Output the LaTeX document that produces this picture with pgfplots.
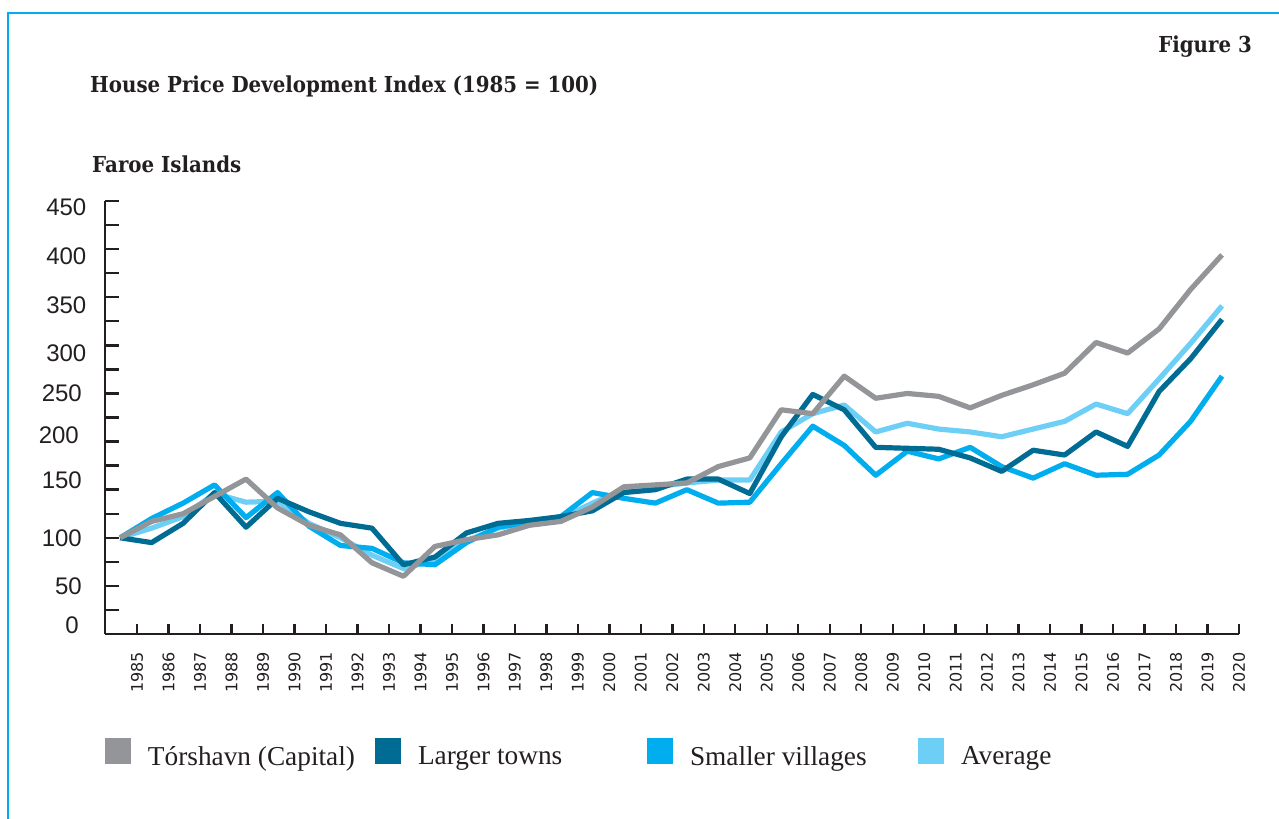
\documentclass[border=0pt]{standalone}
\usepackage{pgfplots}
\pgfplotsset{compat=1.18}
\usepackage{pgfplotstable}
\usepackage{fontspec}
\setmainfont{Liberation Serif}
\newfontfamily\titlefont{DejaVu Serif}[FakeStretch=0.9]
\newfontfamily\sansA{Liberation Sans}
\newfontfamily\sansB{DejaVu Sans}

\definecolor{framecol}{HTML}{00AEEF}
\definecolor{textcol}{HTML}{231F20}
\definecolor{torcol}{HTML}{939598}
\definecolor{largecol}{HTML}{006C94}
\definecolor{smallcol}{HTML}{00AEEF}
\definecolor{avgcol}{HTML}{6DCFF6}

\pgfplotstableread{
year T L S A
1985 100 100 100 100
1986 117 95 120 110
1987 125 115 136 122
1988 143 147 155 146
1989 161 111 121 137
1990 131 141 147 138
1991 113 127 112 115
1992 103 115 92 100
1993 74 110 89 82
1994 60 72 74 68
1995 91 80 72 77
1996 98 105 95 97
1997 103 115 111 110
1998 113 118 116 116
1999 117 122 122 120
2000 132 128 147 136
2001 153 147 141 150
2002 155 150 136 153
2003 157 161 150 157
2004 174 161 136 160
2005 183 146 137 160
2006 233 205 177 210
2007 229 249 216 229
2008 268 233 196 238
2009 245 194 165 210
2010 250 193 190 219
2011 247 192 182 213
2012 235 183 194 210
2013 248 169 174 205
2014 259 191 162 213
2015 271 186 177 221
2016 303 210 165 239
2017 292 195 166 229
2018 317 252 186 265
2019 358 286 221 302
2020 394 327 268 341
}\housedata

\begin{document}
\begin{tikzpicture}
\useasboundingbox (0,0) rectangle (1279bp,-819bp);
\draw[framecol, line width=2.2bp] (8bp,-819bp) -- (8bp,-13bp) -- (1279bp,-13bp);

\node[anchor=base east, inner sep=0pt, text=textcol, font={\titlefont\bfseries\fontsize{22bp}{26bp}\selectfont}] at (1252bp,-52bp) {Figure 3};
\node[anchor=base west, inner sep=0pt, text=textcol, font={\titlefont\bfseries\fontsize{22bp}{26bp}\selectfont}] at (90bp,-92bp) {House Price Development Index (1985 = 100)};
\node[anchor=base west, inner sep=0pt, text=textcol, font={\titlefont\bfseries\fontsize{22bp}{26bp}\selectfont}] at (92bp,-172bp) {Faroe Islands};

\begin{axis}[
  at={(105bp,-634bp)}, anchor=south west,
  scale only axis, width=1134bp, height=433bp,
  xmin=1984.52, xmax=2020.54, ymin=0, ymax=450,
  clip=false,
  axis x line=bottom, axis y line=left,
  axis line style={-, line width=2.5bp, draw=textcol},
  xtick={1985.54,1986.54,1987.54,1988.54,1989.54,1990.54,1991.54,1992.54,1993.54,1994.54,1995.54,1996.54,1997.54,1998.54,1999.54,2000.54,2001.54,2002.54,2003.54,2004.54,2005.54,2006.54,2007.54,2008.54,2009.54,2010.54,2011.54,2012.54,2013.54,2014.54,2015.54,2016.54,2017.54,2018.54,2019.54,2020.54},
  xticklabels={1985,1986,1987,1988,1989,1990,1991,1992,1993,1994,1995,1996,1997,1998,1999,2000,2001,2002,2003,2004,2005,2006,2007,2008,2009,2010,2011,2012,2013,2014,2015,2016,2017,2018,2019,2020},
  ytick=\empty,
  extra y ticks={25,50,75,100,125,150,175,200,225,250,275,300,325,350,375,400,425,450},
  extra y tick labels={},
  extra y tick style={major tick length=14bp, tick align=inside},
  tick align=inside,
  major tick length=10bp,
  every tick/.style={line width=2.4bp, draw=textcol},
  every major tick/.style={line width=2.4bp, draw=textcol},
  xticklabel style={rotate=90, anchor=east, inner sep=0pt, text=textcol, font={\sansB\fontsize{16bp}{19bp}\selectfont}},
  xticklabel shift=18bp,
  legend image code/.code={\fill[#1] (0bp,-7.4bp) rectangle (26bp,18.6bp);},
  legend columns=4,
  legend style={draw=none, fill=none, inner sep=0pt, outer sep=0pt,
    at={(0,-0.2402)}, anchor=north west,
    font={\fontsize{27.3bp}{32bp}\selectfont}, text=textcol,
    nodes={inner sep=0pt},
    /tikz/every odd column/.append style={column sep=17bp},
    /tikz/every even column/.append style={column sep=0pt}},
]
\addlegendimage{fill=torcol, draw=none}
\addlegendentry{\makebox[227bp][l]{Tórshavn (Capital)}}
\addlegendimage{fill=largecol, draw=none}
\addlegendentry{\makebox[229bp][l]{Larger towns}}
\addlegendimage{fill=smallcol, draw=none}
\addlegendentry{\makebox[228bp][l]{Smaller villages}}
\addlegendimage{fill=avgcol, draw=none}
\addlegendentry{Average}

\addplot[forget plot, avgcol, line width=5.2bp, line join=round] table[x=year, y=A] {\housedata};
\addplot[forget plot, smallcol, line width=5.2bp, line join=round] table[x=year, y=S] {\housedata};
\addplot[forget plot, largecol, line width=5.2bp, line join=round] table[x=year, y=L] {\housedata};
\addplot[forget plot, torcol, line width=5.2bp, line join=round] table[x=year, y=T] {\housedata};
\end{axis}

\begin{scope}[every node/.style={anchor=east, inner sep=0pt, text=textcol, font={\sansA\fontsize{24bp}{28bp}\selectfont}}]
\node at (86.5bp,-207bp) {450};
\node at (86.5bp,-256.5bp) {400};
\node at (86.5bp,-305bp) {350};
\node at (86.5bp,-353bp) {300};
\node at (82bp,-393bp) {250};
\node at (79bp,-435bp) {200};
\node at (82bp,-480bp) {150};
\node at (82bp,-538bp) {100};
\node at (82bp,-586.5bp) {50};
\node at (79bp,-625.5bp) {0};
\end{scope}
\end{tikzpicture}
\end{document}
